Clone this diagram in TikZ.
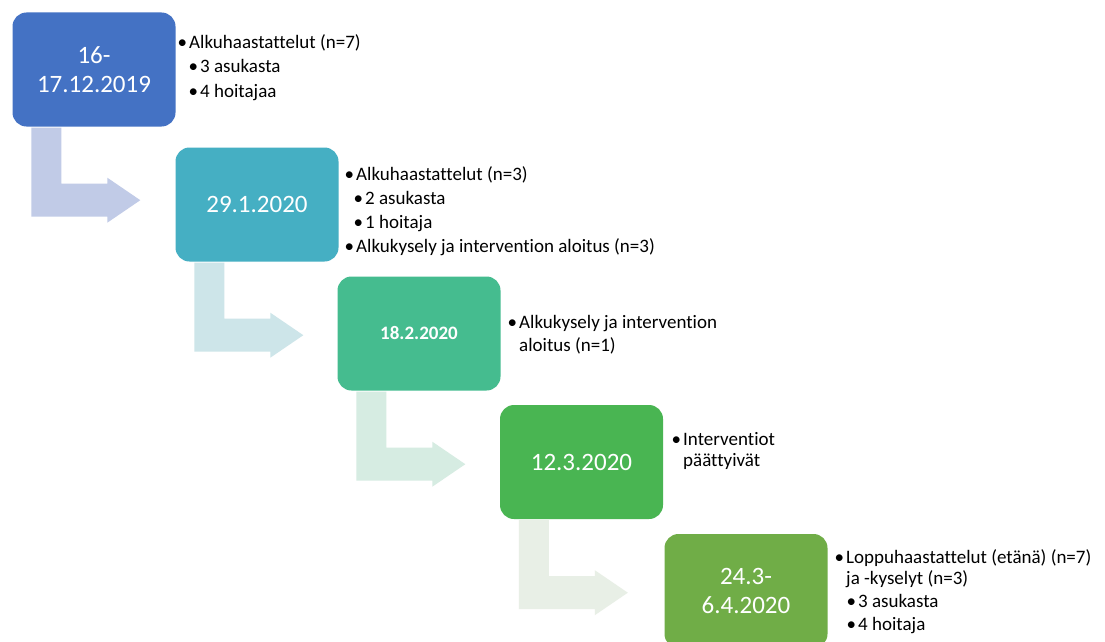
\documentclass[tikz,border=0pt]{standalone}
\usepackage{fontspec}
\setmainfont{Carlito}[Ligatures=CommonOff]
\usetikzlibrary{calc}
\definecolor{boxA}{HTML}{4472C4}
\definecolor{boxB}{HTML}{45AFC3}
\definecolor{boxC}{HTML}{45BC8F}
\definecolor{boxD}{HTML}{49B552}
\definecolor{boxE}{HTML}{70AD47}
\definecolor{arrA}{HTML}{C1CBE7}
\definecolor{arrB}{HTML}{CDE5E9}
\definecolor{arrC}{HTML}{D6ECE2}
\definecolor{arrD}{HTML}{E8EFE6}
\newcommand\bentarr[2]{%
  \fill[#2] ($(#1.south west)+(19,1)$) -- ($(#1.south west)+(49,1)$)
    -- ($(#1.south west)+(49,57)$) -- ($(#1.south west)+(95,57)$)
    -- ($(#1.south west)+(95,51)$) -- ($(#1.south west)+(128,73.5)$)
    -- ($(#1.south west)+(95,96)$) -- ($(#1.south west)+(95,90)$)
    -- ($(#1.south west)+(19,90)$) -- cycle;}
\newcommand\bul{\llap{•\kern2pt}}
\begin{document}
\begin{tikzpicture}[x=1pt,y=-1pt,
  datebox/.style={rectangle, rounded corners=14pt, minimum width=163pt,
    minimum height=114pt, inner sep=0pt, text=white, align=center,
    font=\fontsize{25}{28.5}\selectfont},
  side/.style={anchor=base west, inner sep=0pt,
    font=\fontsize{19}{24}\selectfont, text=black}]
\useasboundingbox (0,0) rectangle (1105,642);
\clip (0,0) rectangle (1105,642);
\fill[white] (0,0) rectangle (1105,642);

\node[datebox, fill=boxA] (b1) at (94,69.5) {16-\\17.12.2019};
\node[datebox, fill=boxB] (b2) at (257,204.5) {29.1.2020};
\node[datebox, fill=boxC, font=\bfseries\fontsize{19}{22}\selectfont] (b3) at (419,333.5) {18.2.2020};
\node[datebox, fill=boxD] (b4) at (581.5,462) {12.3.2020};
\node[datebox, fill=boxE] (b5) at (746,591) {24.3-\\6.4.2020};

\bentarr{b1}{arrA}
\bentarr{b2}{arrB}
\bentarr{b3}{arrC}
\bentarr{b4}{arrD}

\node[side] (t1a) at (189,48.5) {\bul Alkuhaastattelut (n=7)};
\node[side] (t1b) at (200,73) {\bul 3 asukasta};
\node[side] (t1c) at (200,97.5) {\bul 4 hoitajaa};

\node[side] (t2a) at (356,180) {\bul Alkuhaastattelut (n=3)};
\node[side] (t2b) at (365,204) {\bul 2 asukasta};
\node[side] (t2c) at (365,228) {\bul 1 hoitaja};
\node[side] (t2d) at (356,252) {\bul Alkukysely ja intervention aloitus (n=3)};

\node[side] (t3a) at (519,328) {\bul Alkukysely ja intervention};
\node[side] (t3b) at (519,351) {aloitus (n=1)};

\node[side] (t4a) at (683,445) {\bul Interventiot};
\node[side] (t4b) at (683,466) {päättyivät};

\node[side] (t5a) at (846,563) {\bul Loppuhaastattelut (etänä) (n=7)};
\node[side] (t5b) at (846,584) {ja -kyselyt (n=3)};
\node[side] (t5c) at (858,607) {\bul 3 asukasta};
\node[side] (t5d) at (858,630) {\bul 4 hoitaja};
\end{tikzpicture}
\end{document}
